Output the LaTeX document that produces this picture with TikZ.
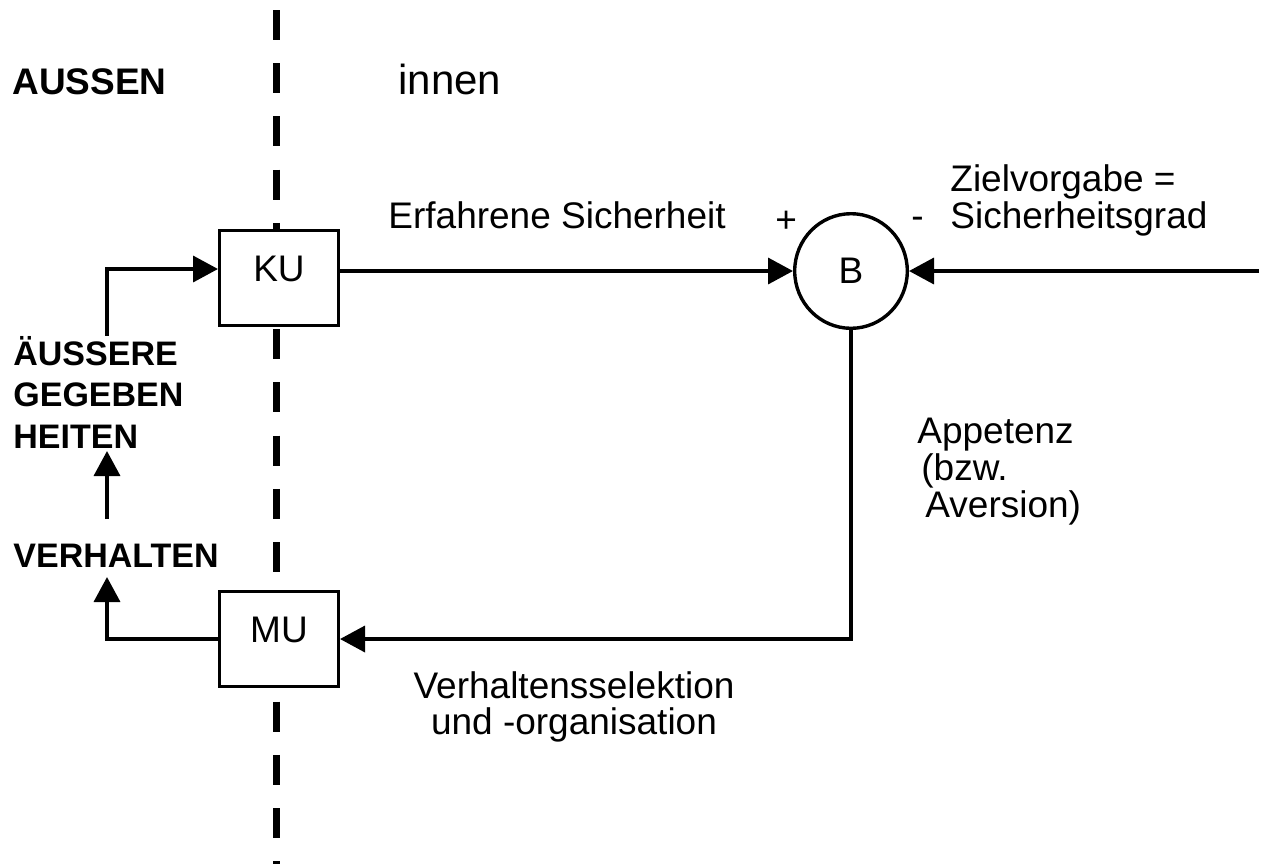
\documentclass[tikz,border=0pt]{standalone}
\usepackage{fontspec}
\setmainfont{Liberation Sans}
\usetikzlibrary{arrows.meta,shapes.geometric}

\begin{document}
\begin{tikzpicture}[x=0.5pt, y=-0.5pt,
        unit/.style = {draw, line width=1.7pt, fill=white, inner sep=0pt,
            minimum width=59.3pt, minimum height=47.3pt, text depth=9pt,
            font=\fontsize{18.5}{18}\selectfont},
        cmp/.style = {draw, ellipse, line width=1.7pt, fill=white, inner sep=0pt,
            minimum width=56.3pt, minimum height=57.3pt,
            font=\fontsize{18.5}{18}\selectfont},
        lbl/.style = {inner sep=0pt, anchor=base west, font=\fontsize{18.5}{18}\selectfont},
        bld/.style = {inner sep=0pt, anchor=base west, font=\bfseries\fontsize{17}{20}\selectfont},
        ar/.style = {line width=1.8pt, -{Triangle[length=12.5pt, width=13pt]}},
        divider/.style = {line width=3.6pt, dash pattern=on 15pt off 11.6pt}]
        \useasboundingbox (0,0) rectangle (1261,863);

        % grenze aussen / innen
        \draw[divider] (276.5,10) -- (276.5,880);

        \node[unit] (ku) at (279,278) {KU};
        \node[unit] (mu) at (279,639) {MU};
        \node[cmp] (b) at (851,271) {B};

        \node[bld, font=\bfseries\fontsize{18.5}{20}\selectfont] (aussen) at (12,94) {AUSSEN};
        \node[lbl, font=\fontsize{21}{20}\selectfont] (innen) at (398,94) {innen};

        \node[bld] (aeu) at (13,365) {ÄUSSERE};
        \node[bld] (geg) at (13,406) {GEGEBEN};
        \node[bld] (hei) at (13,448) {HEITEN};
        \node[bld] (verh) at (13,567) {VERHALTEN};

        \node[lbl] (erf) at (388,228) {Erfahrene Sicherheit};
        \node[lbl] (plus) at (775,232) {+};
        \node[lbl] (minus) at (911,228) {-};
        \node[lbl] (ziel) at (950,191) {Zielvorgabe =};
        \node[lbl] (grad) at (950,228) {Sicherheitsgrad};

        \node[lbl] (app) at (917,443) {Appetenz};
        \node[lbl] (bzw) at (921,480) {(bzw.};
        \node[lbl] (avers) at (925,517) {Aversion)};

        \node[lbl, anchor=base] (sel) at (574,698) {Verhaltensselektion};
        \node[lbl, anchor=base] (org) at (574,734) {und -organisation};

        \coordinate (soll) at (1259,271);

        \draw[ar] ([xshift=47pt]aeu.north west) |- ([yshift=4.5pt]ku.west);
        \draw[ar] (ku.east |- b.west) -- (b.west);
        \draw[ar] (soll) -- (b.east);
        \draw[ar] (b.south) |- (mu.east);
        \draw[ar] (mu.west) -| ([xshift=47pt, yshift=-5pt]verh.base west);
        \draw[ar] ([xshift=47pt, yshift=12pt]verh.north west) -- ([xshift=47pt, yshift=-1.5pt]hei.base west);
    \end{tikzpicture}
\end{document}
